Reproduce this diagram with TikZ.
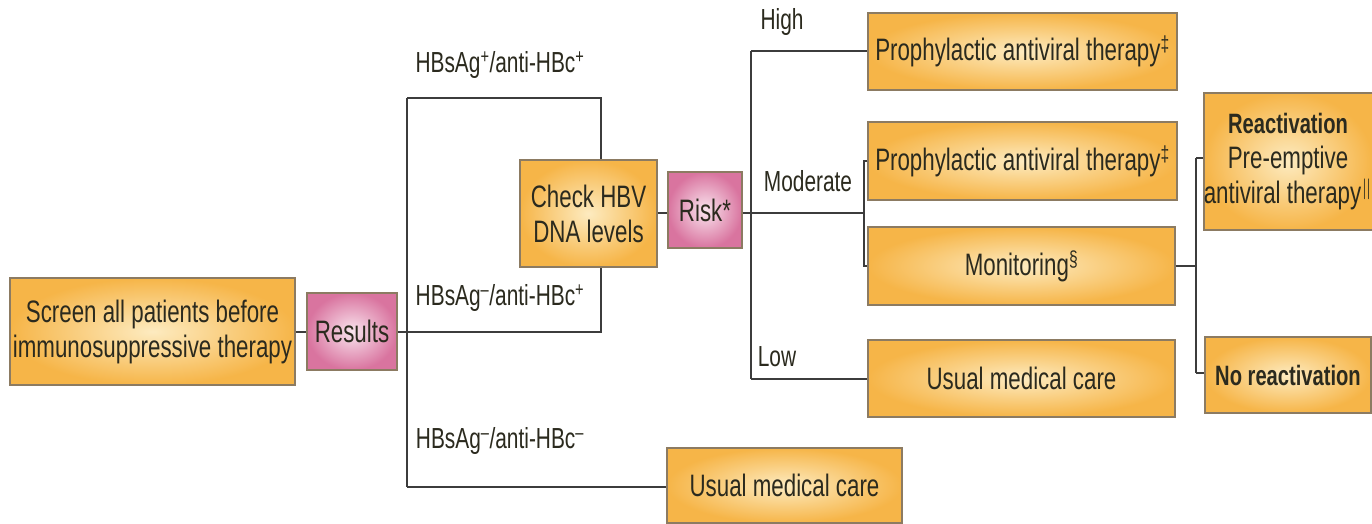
\documentclass[tikz,border=0pt]{standalone}
\usepackage{fontspec}
\setmainfont{Liberation Sans}[FakeStretch=0.72]
\definecolor{orin}{HTML}{FDEBC0}
\definecolor{orout}{HTML}{F6B548}
\definecolor{pkin}{HTML}{F9E4EE}
\definecolor{pkout}{HTML}{D9749F}
\definecolor{bord}{HTML}{8C7B62}
\definecolor{ln}{HTML}{3C3C3C}
\definecolor{txt}{HTML}{2B2A1E}
\newcommand{\bolder}[1]{{\fontsize{28}{35}\selectfont\bfseries #1}}
\begin{document}
\begin{tikzpicture}[x=1pt,y=-1pt,
  box/.style={draw=bord, line width=1.4pt, inner color=orin, outer color=orout, text=txt,
    align=center, inner sep=0pt, font=\fontsize{31}{35}\selectfont},
  pbox/.style={box, inner color=pkin, outer color=pkout},
  conn/.style={draw=ln, line width=2pt},
  lab/.style={text=txt, inner sep=0pt, font=\fontsize{29}{33}\selectfont}]
\useasboundingbox[fill=white] (0,0) rectangle (1372,524);
% boxes
\node[box, minimum width=285, minimum height=107] (screen) at (152.5,331.5) {Screen all patients before\\immunosuppressive therapy};
\node[pbox, minimum width=90, minimum height=77] (results) at (352,331.5) {Results};
\node[box, minimum width=137, minimum height=107] (check) at (588.5,213.5) {Check HBV\\DNA levels};
\node[pbox, minimum width=74, minimum height=76] (risk) at (705,210) {Risk*};
\node[box, minimum width=309, minimum height=77] (high) at (1022.5,51.5) {Prophylactic antiviral therapy\textsuperscript{‡}};
\node[box, minimum width=309, minimum height=78] (mod) at (1022.5,161) {Prophylactic antiviral therapy\textsuperscript{‡}};
\node[box, minimum width=307, minimum height=78] (mon) at (1021.5,266) {Monitoring\textsuperscript{§}};
\node[box, minimum width=307, minimum height=77] (low) at (1021.5,378.5) {Usual medical care};
\node[box, minimum width=166, minimum height=137] (react) at (1288,161.5) {\bolder{Reactivation}\\Pre-emptive\\antiviral therapy\textsuperscript{$\|$}};
\node[box, minimum width=166, minimum height=76] (norea) at (1288,375) {\bolder{No reactivation}};
\node[box, minimum width=235, minimum height=75] (usual) at (784.5,485.5) {Usual medical care};
% labels
\node[lab] (l1) at (500,65) {HBsAg\textsuperscript{+}/anti-HBc\textsuperscript{+}};
\node[lab] (l2) at (500,298) {HBsAg\textsuperscript{–}/anti-HBc\textsuperscript{+}};
\node[lab] (l3) at (500,441) {HBsAg\textsuperscript{–}/anti-HBc\textsuperscript{–}};
\node[lab] (lh) at (782,22) {High};
\node[lab] (lm) at (808,181) {Moderate};
\node[lab] (ll) at (777,357) {Low};
% coordinates
\coordinate (a1) at (407,98);
\coordinate (a2) at (407,331.5);
\coordinate (a3) at (407,487);
\coordinate (b1) at (601,98);
\coordinate (b2) at (601,331.5);
\coordinate (r1) at (751,51.5);
\coordinate (r2) at (751,213);
\coordinate (r3) at (751,378.5);
\coordinate (m1) at (864,161);
\coordinate (m2) at (864,213);
\coordinate (m3) at (864,266);
\coordinate (s1) at (1196,158);
\coordinate (s2) at (1196,266);
\coordinate (s3) at (1196,373);
% connectors
\draw[conn] (screen.east) -- (results.west);
\draw[conn] (results.east) -- (a2);
\draw[conn] (a1) -- (a3);
\draw[conn] (a1) -- (b1) -- (b1 |- check.north);
\draw[conn] (a2) -- (b2) -- (b2 |- check.south);
\draw[conn] (a3) -- (a3 -| usual.west);
\draw[conn] (check.east |- r2) -- (risk.west |- r2);
\draw[conn] (risk.east |- r2) -- (r2);
\draw[conn] (r1) -- (r3);
\draw[conn] (r1) -- (high.west);
\draw[conn] (r2) -- (m2);
\draw[conn] (r3) -- (low.west);
\draw[conn] (mod.west) -- (m1) -- (m3) -- (mon.west);
\draw[conn] (mon.east) -- (s2);
\draw[conn] (s1) -- (s3);
\draw[conn] (s1) -- (s1 -| react.west);
\draw[conn] (s3) -- (s3 -| norea.west);
\end{tikzpicture}
\end{document}
